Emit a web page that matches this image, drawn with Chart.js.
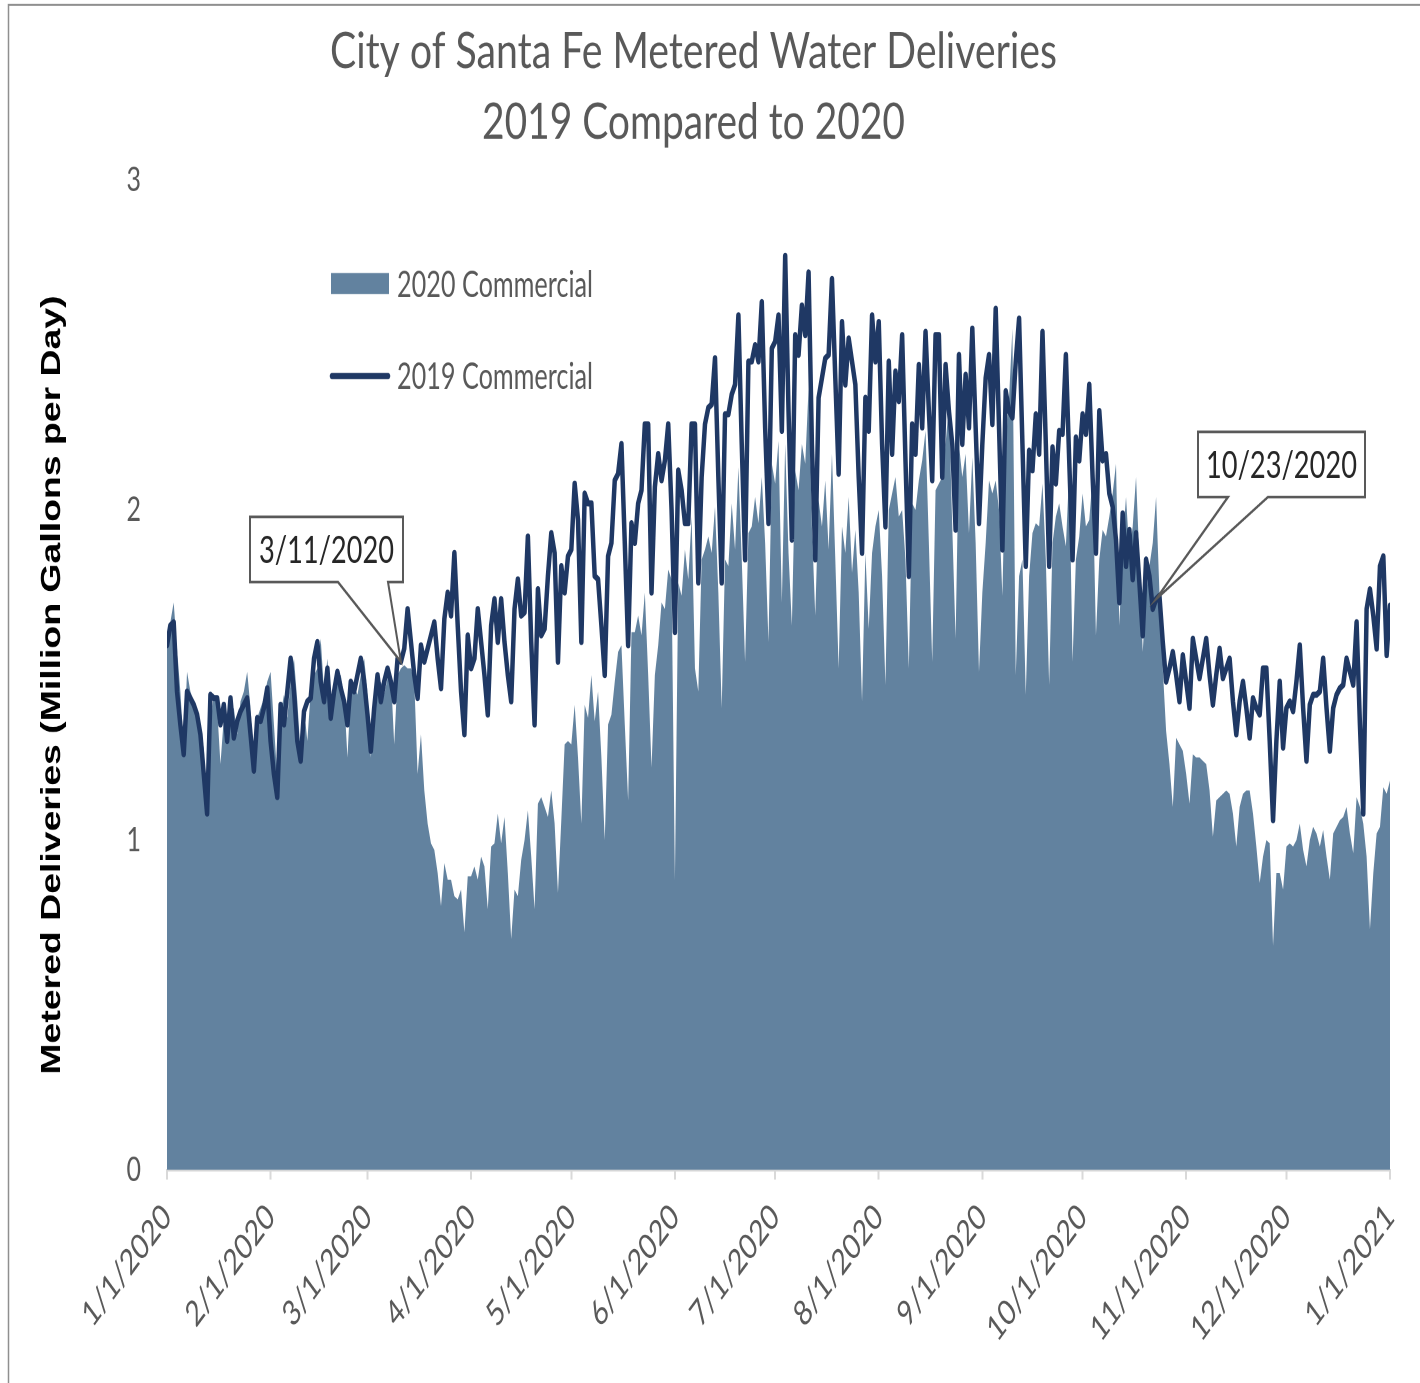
<!DOCTYPE html>
<html><head><meta charset="utf-8">
<script src="https://cdn.jsdelivr.net/npm/chart.js@4.4.1/dist/chart.umd.min.js"></script>
<style>
html,body{margin:0;padding:0;background:#fff;overflow:hidden;}
#wrap{position:absolute;left:0;top:0;width:1420px;height:1017px;transform:scaleY(1.35988);transform-origin:0 0;}
canvas{display:block;}
</style></head><body>
<div id="wrap"><canvas id="c" width="1420" height="1017" style="width:1420px;height:1017px"></canvas></div>
<script>
// ---------- data ----------
const chartTitle = ['City of Santa Fe Metered Water Deliveries', '2019 Compared to 2020'];
const yAxisTitle = 'Metered Deliveries (Million Gallons per Day)';
const seriesNames = ['2020 Commercial', '2019 Commercial'];
const tickDays = [0, 31, 60, 91, 121, 152, 182, 213, 244, 274, 305, 335, 366];
const tickLabels = ['1/1/2020','2/1/2020','3/1/2020','4/1/2020','5/1/2020','6/1/2020','7/1/2020','8/1/2020','9/1/2020','10/1/2020','11/1/2020','12/1/2020','1/1/2021'];
const yTicks = [0, 1, 2, 3];
const calloutLabels = ['3/11/2020', '10/23/2020'];
const calloutDays = [70, 296];
const calloutValues = [1.54, 1.73];

const commercial2019 = [
1.59,1.65,1.66,1.45,1.35,1.26,1.45,1.43,1.41,1.38,
1.32,1.20,1.08,1.44,1.43,1.43,1.35,1.41,1.30,1.43,
1.31,1.36,1.39,1.41,1.43,1.32,1.21,1.37,1.36,1.40,
1.46,1.30,1.20,1.13,1.41,1.35,1.45,1.55,1.45,1.30,
1.24,1.39,1.42,1.43,1.55,1.60,1.48,1.42,1.52,1.37,
1.45,1.51,1.46,1.42,1.35,1.48,1.45,1.50,1.55,1.48,
1.38,1.27,1.40,1.50,1.42,1.48,1.52,1.48,1.42,1.55,
1.54,1.58,1.70,1.60,1.50,1.43,1.59,1.54,1.58,1.62,
1.66,1.55,1.46,1.67,1.75,1.68,1.87,1.65,1.45,1.32,
1.62,1.52,1.55,1.70,1.60,1.50,1.38,1.65,1.73,1.60,
1.73,1.60,1.50,1.42,1.70,1.79,1.68,1.69,1.92,1.60,
1.35,1.76,1.62,1.64,1.80,1.93,1.87,1.54,1.83,1.75,
1.86,1.88,2.08,1.97,1.60,2.05,2.02,2.02,1.80,1.79,
1.65,1.50,1.86,1.90,2.09,2.11,2.20,1.90,1.59,1.96,
1.90,2.02,2.06,2.26,2.26,1.75,2.07,2.17,2.09,2.15,
2.26,2.00,1.63,2.12,2.06,1.96,1.96,2.26,2.26,1.78,
2.10,2.26,2.31,2.32,2.46,2.10,1.78,2.29,2.29,2.35,
2.38,2.59,2.20,1.85,2.45,2.45,2.50,2.45,2.63,2.25,
1.96,2.49,2.51,2.59,2.24,2.77,2.30,1.91,2.53,2.47,
2.62,2.53,2.72,2.20,1.85,2.34,2.40,2.46,2.47,2.70,
2.40,2.11,2.57,2.38,2.52,2.45,2.38,2.10,1.87,2.34,
2.24,2.59,2.45,2.57,2.20,1.95,2.45,2.17,2.42,2.33,
2.53,2.15,1.80,2.26,2.17,2.44,2.25,2.54,2.30,2.09,
2.53,2.53,2.10,2.44,2.30,2.20,1.94,2.47,2.20,2.41,
2.25,2.55,2.25,1.96,2.20,2.40,2.47,2.26,2.61,2.25,
1.88,2.36,2.30,2.28,2.45,2.58,2.20,1.83,2.18,2.12,
2.29,2.17,2.54,2.20,1.83,2.19,2.08,2.24,2.23,2.47,
2.15,1.85,2.22,2.15,2.29,2.23,2.38,2.10,1.87,2.30,
2.15,2.17,2.05,2.01,1.91,1.72,1.99,1.83,1.94,1.79,
1.93,1.78,1.62,1.85,1.80,1.70,1.73,1.74,1.60,1.48,
1.52,1.57,1.50,1.42,1.56,1.48,1.40,1.61,1.55,1.49,
1.55,1.61,1.50,1.41,1.50,1.58,1.49,1.52,1.55,1.42,
1.32,1.42,1.48,1.40,1.31,1.43,1.40,1.38,1.52,1.52,
1.30,1.06,1.30,1.48,1.28,1.40,1.42,1.39,1.48,1.59,
1.40,1.24,1.41,1.44,1.44,1.45,1.55,1.40,1.27,1.40,
1.44,1.46,1.47,1.55,1.51,1.47,1.66,1.35,1.08,1.70,
1.76,1.68,1.58,1.83,1.86,1.56,1.71
];

const commercial2020 = [
1.61,1.66,1.72,1.58,1.45,1.28,1.51,1.45,1.42,1.38,
1.35,1.28,1.10,1.35,1.44,1.40,1.23,1.37,1.35,1.38,
1.40,1.32,1.42,1.45,1.51,1.40,1.25,1.37,1.40,1.43,
1.48,1.51,1.35,1.19,1.38,1.44,1.37,1.48,1.55,1.42,
1.26,1.40,1.30,1.45,1.50,1.52,1.61,1.45,1.55,1.40,
1.45,1.48,1.50,1.44,1.25,1.45,1.47,1.44,1.50,1.55,
1.45,1.25,1.40,1.45,1.48,1.44,1.49,1.50,1.29,1.50,
1.52,1.53,1.52,1.52,1.48,1.20,1.32,1.15,1.05,0.99,
0.97,0.90,0.80,0.93,0.88,0.88,0.83,0.82,0.85,0.72,
0.89,0.89,0.92,0.88,0.95,0.92,0.79,0.98,0.99,1.08,
0.99,1.07,0.90,0.70,0.85,0.83,0.94,1.00,1.09,0.95,
0.79,1.11,1.13,1.10,1.07,1.15,1.05,0.84,1.06,1.29,
1.30,1.29,1.41,1.25,1.05,1.41,1.37,1.50,1.36,1.45,
1.25,1.00,1.35,1.38,1.48,1.57,1.59,1.35,1.12,1.63,
1.63,1.68,1.62,1.75,1.50,1.22,1.50,1.59,1.72,1.70,
1.82,1.79,0.88,1.78,1.74,1.88,1.79,1.98,1.52,1.45,
1.85,1.88,1.92,1.87,2.01,1.75,1.40,1.85,1.83,2.02,
1.88,2.13,1.85,1.54,1.93,1.95,2.04,1.96,2.10,1.90,
1.60,2.14,2.08,2.21,1.72,2.20,1.87,1.65,2.12,2.06,
2.20,2.14,2.37,1.95,1.68,2.03,1.95,2.09,1.88,2.17,
1.85,1.52,1.95,1.87,2.04,1.81,1.94,1.75,1.42,1.87,
1.64,1.87,1.95,2.00,1.80,1.47,2.00,2.05,2.10,1.98,
2.00,1.85,1.52,2.02,2.00,2.09,2.15,2.24,1.90,1.54,
2.06,2.08,2.10,2.20,2.32,1.95,1.61,2.20,2.10,2.17,
1.93,2.16,1.90,1.51,1.75,1.90,2.09,2.05,2.09,2.00,
1.74,2.20,2.34,2.55,1.50,1.80,1.85,1.44,1.80,1.93,
1.96,1.95,2.08,1.85,1.47,1.90,1.98,2.02,1.95,1.89,
2.12,1.54,1.85,1.92,2.05,1.95,1.97,2.10,1.62,1.85,
1.94,1.92,1.98,2.05,2.14,1.65,1.90,2.04,1.87,1.95,
2.10,1.85,1.57,1.75,1.83,1.90,2.04,1.75,1.52,1.33,
1.23,1.10,1.31,1.29,1.27,1.20,1.11,1.26,1.25,1.25,
1.24,1.23,1.15,1.01,1.12,1.13,1.14,1.15,1.14,1.08,
0.98,1.10,1.14,1.15,1.15,1.08,0.98,0.87,0.95,1.00,
0.99,0.68,0.90,0.90,0.85,0.98,0.99,0.98,1.00,1.05,
0.97,0.92,1.00,1.04,1.02,0.98,1.03,0.95,0.88,1.02,
1.04,1.06,1.07,1.10,1.02,0.96,1.13,1.10,1.05,0.95,
0.73,0.90,1.02,1.04,1.16,1.14,1.18
];

// ---------- drawing ----------
const K = 1383 / 1017;            // vertical stretch of the picture
const CH = 1017;                   // design canvas height
const AREA_TOP = 180 / K, AREA_BOTTOM = 1170 / K;
const GREY = '#595959';
const FILL_2020 = '#62829f';
const LINE_2019 = '#1f3864';

function drawFit(c, text, x, yCenter, width, size, family, weight, color, align) {
  c.save();
  c.font = weight + ' ' + size + 'px ' + family;
  c.fillStyle = color;
  c.textBaseline = 'alphabetic';
  const w = c.measureText(text).width;
  const sx = width / w;
  c.translate(x, yCenter + size * 0.358);
  c.scale(sx, 1);
  c.textAlign = align;
  c.fillText(text, 0, 0);
  c.restore();
}

const decor = {
  id: 'decor',
  afterDraw(chart) {
    const c = chart.ctx;
    const xs = chart.scales.x, ys = chart.scales.y;
    // outer border
    c.save();
    c.strokeStyle = '#8f8f8f'; c.lineWidth = 1.5;
    c.beginPath(); c.moveTo(8.5, CH); c.lineTo(8.5, 5 / K); c.lineTo(1420, 5 / K); c.stroke();
    c.restore();
    // title
    drawFit(c, chartTitle[0], 693.5, 50 / K, 727, 37, 'Lato', '400', GREY, 'center');
    drawFit(c, chartTitle[1], 693.5, 121 / K, 423, 37, 'Lato', '400', GREY, 'center');
    // y-axis title
    c.save();
    c.translate(60, 685 / K);
    c.rotate(-Math.PI / 2);
    c.font = 'bold 27.5px "Liberation Sans", Arial, sans-serif';
    const tw = c.measureText(yAxisTitle).width;
    c.scale(573 / tw, 1);
    c.fillStyle = '#000';
    c.textAlign = 'center';
    c.textBaseline = 'alphabetic';
    c.fillText(yAxisTitle, 0, 0);
    c.restore();
    // legend
    c.save();
    c.fillStyle = FILL_2020;
    c.fillRect(331, 273 / K, 58, 21 / K);
    c.strokeStyle = LINE_2019; c.lineWidth = 4.5; c.lineCap = 'round';
    c.beginPath(); c.moveTo(332, 376 / K); c.lineTo(388, 376 / K); c.stroke();
    c.restore();
    drawFit(c, seriesNames[0], 397, 284 / K, 196, 27, 'Lato', '400', GREY, 'left');
    drawFit(c, seriesNames[1], 397, 376 / K, 196, 27, 'Lato', '400', GREY, 'left');
    // callouts
    const boxes = [
      {l: 250, r: 403, t: 517 / K, b: 582 / K, b1: 338, b2: 388, tw: 135},
      {l: 1198, r: 1365, t: 432 / K, b: 497 / K, b1: 1228, b2: 1268, tw: 151}
    ];
    boxes.forEach((bx, k) => {
      const tx = xs.getPixelForValue(calloutDays[k]);
      const ty = ys.getPixelForValue(calloutValues[k]);
      c.save();
      c.beginPath();
      c.moveTo(bx.l, bx.t); c.lineTo(bx.r, bx.t); c.lineTo(bx.r, bx.b);
      c.lineTo(bx.b2, bx.b); c.lineTo(tx, ty); c.lineTo(bx.b1, bx.b);
      c.lineTo(bx.l, bx.b); c.closePath();
      c.fillStyle = '#fff'; c.fill();
      c.strokeStyle = '#595959'; c.lineWidth = 2; c.lineJoin = 'miter';
      c.stroke();
      c.restore();
      drawFit(c, calloutLabels[k], (bx.l + bx.r) / 2, (bx.t + bx.b) / 2, bx.tw, 28, 'Lato', '400', '#262626', 'center');
    });
  }
};

const toXY = arr => arr.map((v, i) => ({x: i, y: v}));

new Chart(document.getElementById('c'), {
  type: 'line',
  data: {
    datasets: [
      {label: seriesNames[1], data: toXY(commercial2019), borderColor: LINE_2019, borderWidth: 4.5,
       pointRadius: 0, fill: false, tension: 0, order: 0, borderJoinStyle: 'round', borderCapStyle: 'round'},
      {label: seriesNames[0], data: toXY(commercial2020), borderColor: 'rgba(0,0,0,0)', borderWidth: 0,
       backgroundColor: FILL_2020, pointRadius: 0, fill: 'origin', tension: 0, order: 1}
    ]
  },
  options: {
    responsive: false, animation: false, devicePixelRatio: 2, events: [],
    layout: {padding: {left: 0, right: 30, top: AREA_TOP, bottom: 0}},
    plugins: {legend: {display: false}, title: {display: false}, tooltip: {enabled: false}},
    scales: {
      x: {
        type: 'linear', min: 0, max: 366,
        afterBuildTicks: s => { s.ticks = tickDays.map(v => ({value: v})); },
        afterFit: s => { s.height = CH - AREA_BOTTOM; s.paddingLeft = 0; s.paddingRight = 0; },
        ticks: {autoSkip: false, minRotation: 45, maxRotation: 45, color: GREY,
                font: {family: 'Lato', size: 26}, padding: 12,
                callback: v => tickLabels[tickDays.indexOf(v)]},
        grid: {display: true, drawOnChartArea: false, drawTicks: true, tickLength: 7, color: '#d9d9d9', lineWidth: 2},
        border: {display: true, color: '#d9d9d9', width: 2}
      },
      y: {
        min: 0, max: 3,
        afterBuildTicks: s => { s.ticks = yTicks.map(v => ({value: v})); },
        afterFit: s => { s.width = 167; s.paddingTop = 0; s.paddingBottom = 0; },
        ticks: {color: GREY, font: {family: 'Lato', size: 25}, padding: 18},
        grid: {display: false}, border: {display: false}
      }
    }
  },
  plugins: [decor]
});
</script>
</body></html>
